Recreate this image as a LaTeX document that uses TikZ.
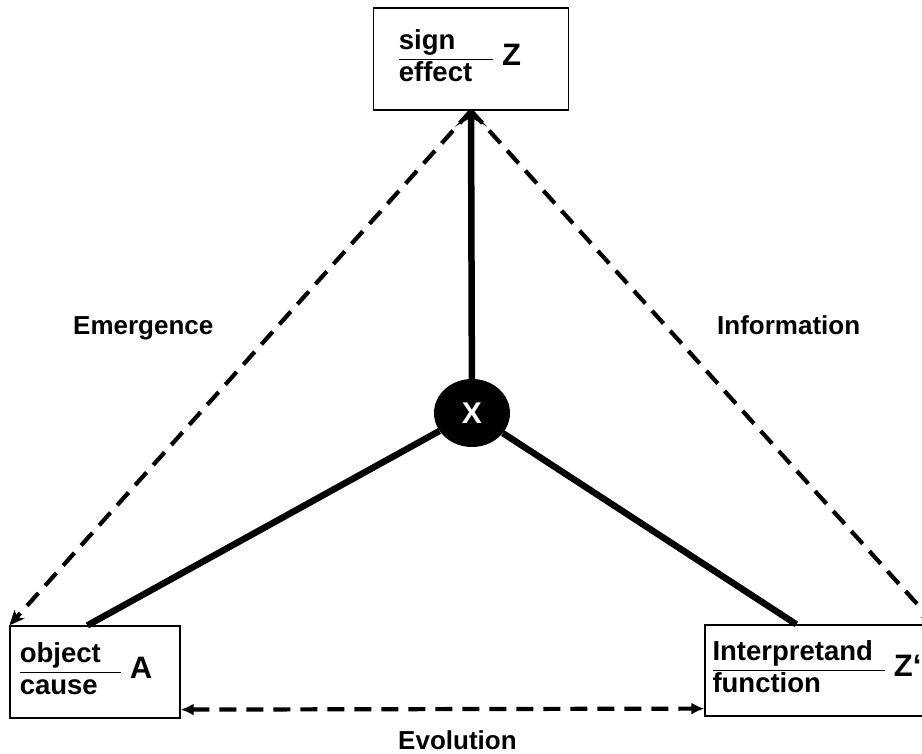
\documentclass[tikz,border=0pt]{standalone}
\usepackage{fontspec}
\setmainfont{Liberation Sans}
\usetikzlibrary{arrows.meta,calc,shapes.geometric}

% word over word with a rule, then the letter
\newcommand{\ratiotext}[4]{%
  \setlength{\arrayrulewidth}{0.9pt}%
  \begin{tabular}{@{}l@{\hspace{#4}}}#1\\\hline #2\end{tabular}%
  \hspace{9pt}{\fontsize{31}{31}\selectfont #3}}

\begin{document}
\begin{tikzpicture}[x=1pt,y=1pt,yscale=-1,xscale=1,
  box/.style={draw,line width=1.2pt,inner sep=0pt,font=\fontsize{27.5}{31}\selectfont\bfseries},
  lbl/.style={font=\fontsize{26}{31}\selectfont\bfseries,anchor=base west,inner sep=0pt},
  spoke/.style={line width=6.5pt},
  dsh/.style={line width=4.2pt,dash pattern=on 17pt off 10pt}]
\useasboundingbox (0,0) rectangle (922,754);

% the three corners
\node [box,minimum width=195pt,minimum height=102pt] (sign) at (471,59)
  {\ratiotext{sign}{effect}{Z}{21pt}\rule{22pt}{0pt}};
\node [box,minimum width=170pt,minimum height=92pt] (obj) at (95,672)
  {\ratiotext{object}{cause}{A}{20pt}\rule{18pt}{0pt}};
\node [box,minimum width=230pt,minimum height=91pt] (intp) at (820,670.5)
  {\ratiotext{Interpretand}{function}{Z‘}{12pt}\rule{6pt}{0pt}};

% the centre
\node [ellipse,fill=black,minimum width=76pt,minimum height=68pt,inner sep=0pt,
  text=white,font=\fontsize{30}{30}\selectfont\bfseries] (x) at (472,413) {X};

\draw [spoke,-{Stealth[length=16pt,width=32pt,inset=9pt]}] (x) -- (sign.south);
\draw [spoke] (x) -- ($(obj.north west)+(78,0)$);
\draw [spoke] (x) -- ($(intp.north west)+(92,0)$);

\draw [dsh,-{Stealth[length=15pt,width=13pt,inset=4pt]}] (sign.south) -- (obj.north west);
\draw [dsh,-{Stealth[length=15pt,width=13pt,inset=4pt]}] (sign.south) -- (intp.north east);
\draw [dsh,{Latex[length=13pt,width=12pt]}-{Latex[length=13pt,width=12pt]}]
  ($(obj.south east)+(0,-9)$) -- ($(intp.south west)+(0,-8)$);

\node [lbl] (emerg) at (73,335) {Emergence};
\node [lbl] (info) at (717,335) {Information};
\node [lbl] (evol) at (398,749) {Evolution};

\end{tikzpicture}
\end{document}
